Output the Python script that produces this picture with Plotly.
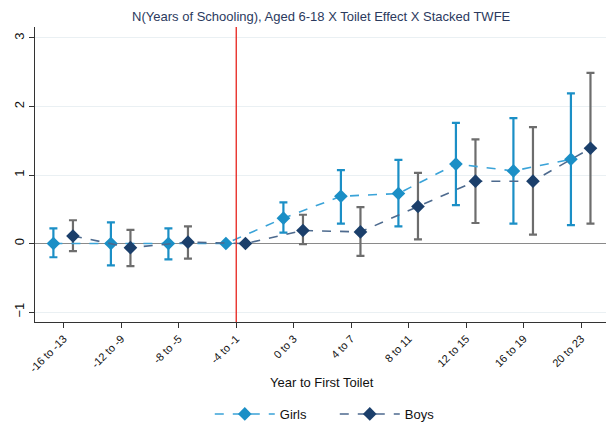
import plotly.graph_objects as go

# Event-time bins (years relative to first toilet)
periods = ["-16 to -13", "-12 to -9", "-8 to -5", "-4 to -1", "0 to 3",
           "4 to 7", "8 to 11", "12 to 15", "16 to 19", "20 to 23"]

# Point estimates and 95% confidence bounds (reference period has none)
girls_est = [0.00, 0.00, 0.00, 0.00, 0.37, 0.69, 0.73, 1.16, 1.06, 1.23]
girls_lo = [-0.20, -0.32, -0.23, None, 0.16, 0.29, 0.25, 0.56, 0.29, 0.27]
girls_hi = [0.22, 0.31, 0.22, None, 0.60, 1.07, 1.22, 1.76, 1.83, 2.19]

boys_est = [0.11, -0.06, 0.02, 0.00, 0.19, 0.17, 0.54, 0.91, 0.91, 1.39]
boys_lo = [-0.11, -0.33, -0.22, None, -0.01, -0.18, 0.06, 0.30, 0.13, 0.29]
boys_hi = [0.34, 0.20, 0.25, None, 0.42, 0.53, 1.03, 1.52, 1.70, 2.49]

y_ticks = [-1, 0, 1, 2, 3]
ref_index = periods.index("-4 to -1")

GIRLS = "#1b8fc6"
GIRLS_LINE = "#3aa3d8"
BOYS = "#1b3f6b"
BOYS_LINE = "#4d6a8e"
BOYS_CI = "#6d6d6d"

idx = list(range(len(periods)))


def shifted(offset):
    return [i + offset for i in idx]


def err_plus(est, hi):
    return [None if h is None else h - e for e, h in zip(est, hi)]


def err_minus(est, lo):
    return [None if l is None else e - l for e, l in zip(est, lo)]


fig = go.Figure()

# Confidence intervals
fig.add_trace(go.Scatter(
    x=shifted(-0.18), y=girls_est, mode="markers", showlegend=False,
    marker=dict(size=1, color="rgba(0,0,0,0)"), hoverinfo="skip",
    error_y=dict(type="data", symmetric=False,
                 array=err_plus(girls_est, girls_hi),
                 arrayminus=err_minus(girls_est, girls_lo),
                 color=GIRLS, thickness=2.2, width=4)))
fig.add_trace(go.Scatter(
    x=shifted(0.16), y=boys_est, mode="markers", showlegend=False,
    marker=dict(size=1, color="rgba(0,0,0,0)"), hoverinfo="skip",
    error_y=dict(type="data", symmetric=False,
                 array=err_plus(boys_est, boys_hi),
                 arrayminus=err_minus(boys_est, boys_lo),
                 color=BOYS_CI, thickness=2.2, width=4)))

# Point estimates joined by dashed lines
fig.add_trace(go.Scatter(
    x=shifted(-0.18), y=girls_est, mode="lines+markers", name="Girls",
    line=dict(color=GIRLS_LINE, width=1.6, dash="dash"),
    marker=dict(symbol="diamond", size=10.5, color=GIRLS)))
fig.add_trace(go.Scatter(
    x=shifted(0.16), y=boys_est, mode="lines+markers", name="Boys",
    line=dict(color=BOYS_LINE, width=1.6, dash="dash"),
    marker=dict(symbol="diamond", size=10.5, color=BOYS)))

# Treatment onset
fig.add_shape(type="line", xref="x", yref="paper", x0=ref_index, x1=ref_index,
              y0=0, y1=1, line=dict(color="#e8322b", width=1.4))

# Horizontal axis title
fig.add_annotation(text="Year to First Toilet", xref="paper", yref="paper",
                   x=0.503, y=-0.205, xanchor="center", yanchor="middle",
                   showarrow=False, font=dict(size=13, color="#111111"))

fig.update_layout(
    width=606, height=429,
    margin=dict(l=35, r=0, t=27, b=105),
    paper_bgcolor="white", plot_bgcolor="white",
    font=dict(family="Liberation Sans, Arial, sans-serif", color="#111111"),
    title=dict(text="N(Years of Schooling), Aged 6-18 X Toilet Effect X Stacked TWFE",
               x=0.53, xanchor="center", y=0.962, yanchor="middle",
               font=dict(size=13, color="#2b3a5e")),
    xaxis=dict(range=[-0.5, 9.43], tickmode="array", tickvals=idx, ticktext=periods,
               tickangle=-45, tickfont=dict(size=11, color="#111111"),
               ticks="outside", ticklen=5, tickcolor="#333333",
               showline=True, linecolor="#333333", linewidth=1.2,
               showgrid=False, zeroline=False, automargin=False),
    yaxis=dict(range=[-1.145, 3.16], tickmode="array", tickvals=y_ticks,
               tickangle=-90, tickfont=dict(size=13, color="#111111"),
               ticks="outside", ticklen=5, tickcolor="#333333",
               showline=True, linecolor="#333333", linewidth=1.2,
               showgrid=True, gridcolor="#eaf0f3", gridwidth=1,
               zeroline=True, zerolinecolor="#8a8a8a", zerolinewidth=1.4,
               automargin=False),
    legend=dict(orientation="h", x=0.525, xanchor="center", y=-0.313, yanchor="middle",
                font=dict(size=13), itemwidth=60, entrywidth=50,
                bgcolor="rgba(0,0,0,0)"),
)

fig.write_html("out.html")
